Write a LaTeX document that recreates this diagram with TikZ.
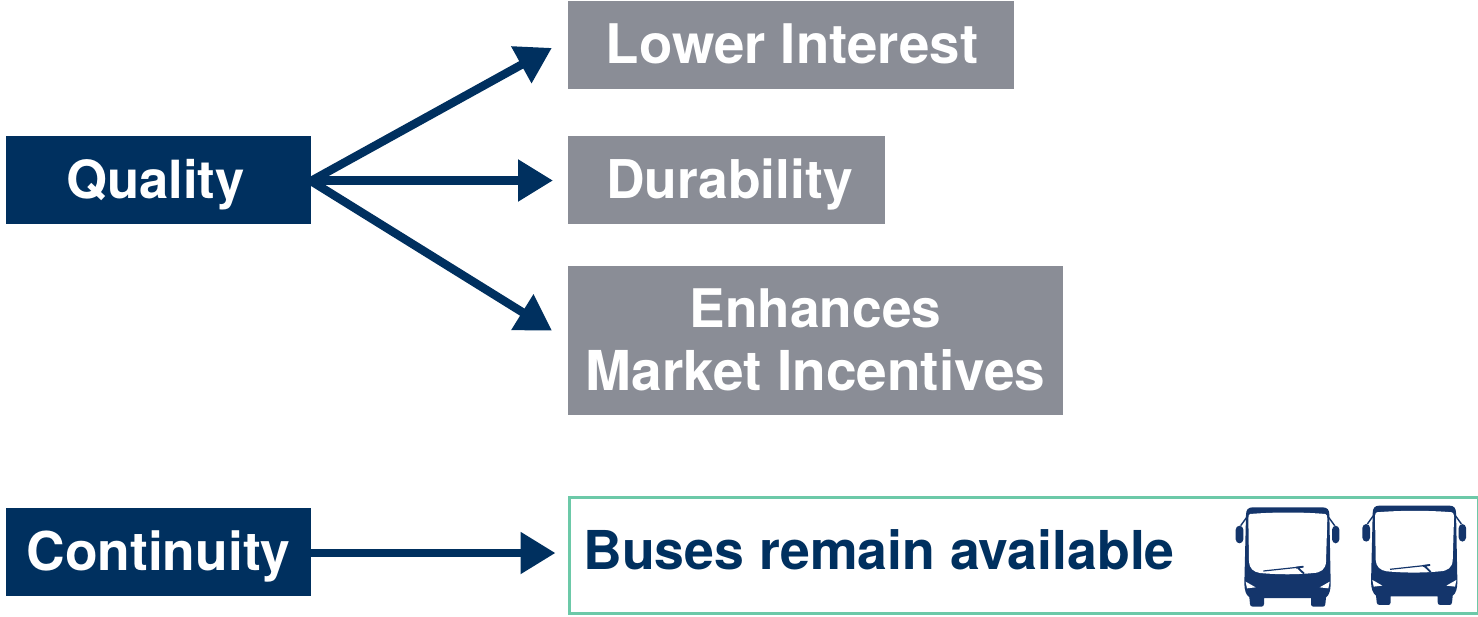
\documentclass[tikz,border=0pt]{standalone}
\usepackage{fontspec}
\setmainfont{TeX Gyre Heros}
\usetikzlibrary{arrows.meta,calc}
\definecolor{navy}{HTML}{00305F}
\definecolor{busnavy}{HTML}{14356B}
\definecolor{slate}{HTML}{8A8D96}
\definecolor{mint}{HTML}{6CC9A8}
\newcommand{\fs}[1]{\fontsize{#1}{31.5}\selectfont}
\tikzset{
  x=0.5pt,y=-0.5pt,
  bigtxt/.style={font=\fontsize{27}{31.5}\selectfont\bfseries},
  box/.style={anchor=north west,inner sep=0pt,outer sep=0pt,align=center,text=white,bigtxt,text height=18pt,text depth=0pt},
  navybox/.style={box,fill=navy},
  greybox/.style={box,fill=slate},
  link/.style={draw=navy,line width=4.2pt,-{Triangle[length=17.5pt,width=20pt]}},
  bus/.pic={
    \begin{scope}[x=0.16667pt,y=-0.16667pt]
      % mirrors
      \fill[busnavy,rounded corners=2pt] (107,137) rectangle (130,190);
      \fill[busnavy,rounded corners=2pt] (396,137) rectangle (418,190);
      \draw[busnavy,line width=0.7pt] (122,137) -- (140,112) (404,137) -- (386,112);
      % body
      \fill[busnavy] (158,82) -- (368,82) .. controls (382,82) and (388,90) .. (388,104)
        -- (392,310) .. controls (392,330) and (388,345) .. (378,352)
        -- (376,372) .. controls (376,378) and (372,380) .. (368,380)
        -- (340,380) .. controls (335,380) and (333,376) .. (333,372) -- (333,354)
        -- (192,354) -- (192,372) .. controls (192,378) and (188,380) .. (184,380)
        -- (158,380) .. controls (153,380) and (150,376) .. (150,372)
        -- (148,352) .. controls (138,345) and (133,330) .. (133,310)
        -- (138,104) .. controls (138,90) and (144,82) .. (158,82) -- cycle;
      % windscreen
      \fill[white] (150,102) .. controls (220,96) and (310,96) .. (376,102)
        .. controls (380,104) and (382,108) .. (382,116)
        -- (378,245) .. controls (377,268) and (362,278) .. (340,279)
        .. controls (290,284) and (235,284) .. (180,279)
        .. controls (160,276) and (148,265) .. (147,245)
        -- (145,116) .. controls (145,108) and (146,104) .. (150,102) -- cycle;
      % side slits and headlights
      \fill[white] (137,305) -- (167,322) -- (141,325) -- cycle;
      \fill[white] (389,305) -- (359,322) -- (385,325) -- cycle;
      % wiper
      \draw[busnavy,line width=0.6pt] (190,273) -- (310,260);
      \draw[busnavy,line width=0.9pt] (288,263) -- (310,260) (292,262) -- (312,281);
    \end{scope}
  }
}
\begin{document}
\begin{tikzpicture}
\useasboundingbox (0,0) rectangle (1478,616);
\node[navybox,minimum width=152.5pt,minimum height=44pt] (quality) at (6,136) {\fs{26.3}\kern-3pt Quality};
\node[navybox,minimum width=152.5pt,minimum height=44pt] (continuity) at (6,508) {\fs{26.7}Continuity};
\node[greybox,minimum width=223pt,minimum height=44pt] (lower) at (568,1) {\fs{27.3}\kern1pt Lower Interest};
\node[greybox,minimum width=158.5pt,minimum height=44pt] (durability) at (568,136) {\fs{26.7}\kern3pt Durability};
\node[greybox,minimum width=247.5pt,minimum height=74.5pt,text height=49.5pt] (enhances) at (568,266) {\fs{26.6}Enhances\\\fs{27.5}Market Incentives};
\node[box,draw=mint,line width=1.5pt,fill=white,minimum width=454.25pt,minimum height=58pt] (buses) at (569.5,497) {};
\node[anchor=base west,inner sep=0pt,text=navy,bigtxt] (busestext) at (583,569) {\fs{26.8}Buses remain available};
\pic at (1200,480) {bus};
\pic at (1326.7,478.3) {bus};
\draw[link,shorten >=9.2pt] ([yshift=-0.5pt]quality.east) -- ([yshift=3pt]lower.west);
\draw[link,shorten >=7.5pt] ([yshift=-0.25pt]quality.east) -- ([yshift=-0.25pt]durability.west);
\draw[link,shorten >=9.4pt] ([yshift=-0.5pt]quality.east) -- (enhances.west);
\draw[link,shorten >=7pt] ([yshift=-0.5pt]continuity.east) -- ([yshift=-0.5pt]continuity.east -| buses.west);
\end{tikzpicture}
\end{document}
